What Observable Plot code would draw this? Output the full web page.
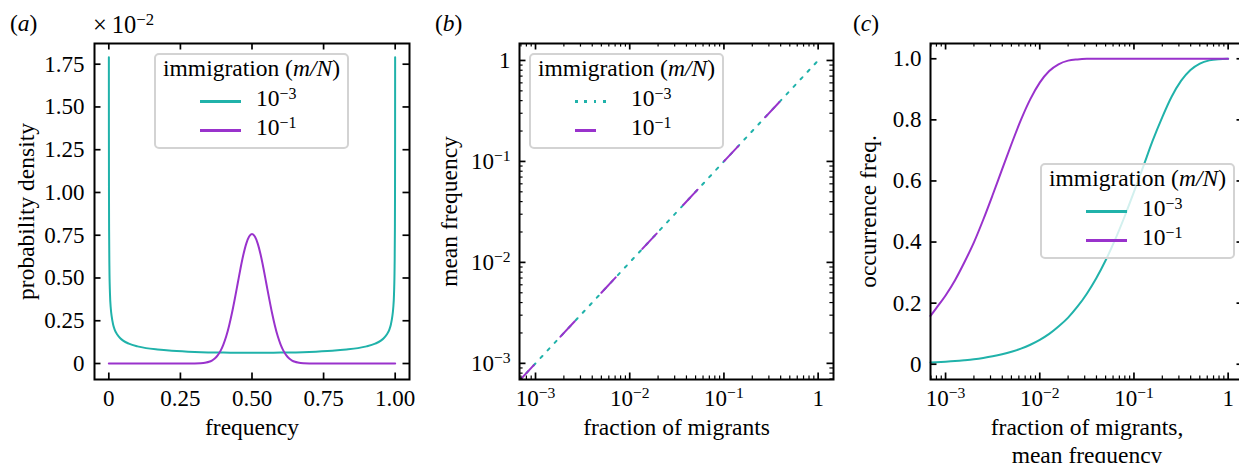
<!DOCTYPE html>
<html><head><meta charset="utf-8">
<script src="https://cdn.jsdelivr.net/npm/d3@7"></script>
<script src="https://cdn.jsdelivr.net/npm/@observablehq/plot@0.6"></script>
<style>
html,body{margin:0;padding:0;background:#fff;overflow:hidden;width:1239px;height:463px;}
body{position:relative;font-family:"Liberation Serif","Tinos","Times New Roman",serif;color:#000;}
.panel{position:absolute;top:0;height:463px;}
.lab{position:absolute;font-size:23.5px;line-height:1;white-space:nowrap;}
.sup{font-size:0.68em;position:relative;top:-0.46em;}
.legend{position:absolute;box-sizing:border-box;border:2px solid #d3d3d3;border-radius:5px;background:rgba(255,255,255,0.8);font-size:23.5px;}
.legend .t{position:absolute;left:0;right:0;top:2px;text-align:center;line-height:1;white-space:nowrap;}
.legend .h{position:absolute;height:3px;}
.legend .l{position:absolute;line-height:1;white-space:nowrap;}
</style></head><body>
<div id="pa" class="panel" style="left:0;width:420px"></div>
<div id="pb" class="panel" style="left:420px;width:420px"></div>
<div id="pc" class="panel" style="left:840px;width:410px"></div>

<div class="lab" style="left:10px;top:12px">(<i>a</i>)</div>
<div class="lab" style="left:93px;top:13px;font-size:24.5px">×&#8201;10<span class="sup">−2</span></div>
<div class="lab" style="left:435px;top:12px">(<i>b</i>)</div>
<div class="lab" style="left:853px;top:12px">(<i>c</i>)</div>

<div id="legends"></div>

<script>
const TEAL = "#20b2aa", PURPLE = "#9932cc";
const FONT = "'Liberation Serif','Tinos','Times New Roman',serif";

// ---------- Panel (a): probability density (x 10^-2) vs frequency ----------
const aTealFreq = [0.00016,0.0003,0.0006,0.001,0.002,0.004,0.007,0.01,0.015,0.02,0.03,0.04,0.05,0.07,0.1,0.13,0.17,0.22,0.3,0.4,0.5,
  0.6,0.7,0.78,0.83,0.87,0.9,0.93,0.95,0.96,0.97,0.98,0.985,0.99,0.993,0.996,0.998,0.999,0.9994,0.9997,0.99984];
const aTealDensity = [1.79,1.34,0.98,0.78,0.57,0.41,0.32,0.275,0.228,0.2,0.168,0.148,0.134,0.116,0.1,0.09,0.082,0.075,0.068,0.064,0.063,
  0.064,0.068,0.075,0.082,0.09,0.1,0.116,0.134,0.148,0.168,0.2,0.228,0.275,0.32,0.41,0.57,0.78,0.98,1.34,1.79];
const aPurpleFreq = [0,0.1,0.2,0.28,0.3,0.32,0.33,0.34,0.35,0.36,0.37,0.38,0.39,0.4,0.41,0.42,0.43,0.44,0.45,0.46,0.47,0.48,0.49,0.5,
  0.51,0.52,0.53,0.54,0.55,0.56,0.57,0.58,0.59,0.6,0.61,0.62,0.63,0.64,0.65,0.66,0.67,0.68,0.7,0.72,0.8,0.9,1];
const aPurpleDensity = [0,0,0,0,0.0003,0.0015,0.0029,0.0055,0.01,0.0175,0.0294,0.0475,0.074,0.111,0.159,0.221,0.295,0.379,0.468,0.557,0.637,0.701,0.742,0.757,
  0.742,0.701,0.637,0.557,0.468,0.379,0.295,0.221,0.159,0.111,0.074,0.0475,0.0294,0.0175,0.01,0.0055,0.0029,0.0015,0.0003,0,0,0,0];
const aXTicks = [0,0.25,0.5,0.75,1];
const aXTickLabels = ["0","0.25","0.50","0.75","1.00"];
const aYTicks = [0,0.25,0.5,0.75,1,1.25,1.5,1.75];
const aYTickLabels = ["0","0.25","0.50","0.75","1.00","1.25","1.50","1.75"];

// ---------- Panel (b): mean frequency vs fraction of migrants ----------
const bFractionLow = [0.000676,0.001,0.01,0.1,1];
const bMeanLow = [0.000676,0.001,0.01,0.1,1];        // m/N = 1e-3
const bFractionHigh = [0.000676,0.001,0.01,0.1,0.45];
const bMeanHigh = [0.000676,0.001,0.01,0.1,0.45];     // m/N = 1e-1
const logTicks = [0.001,0.01,0.1,1];
const logTickLabels = ["10^−3","10^−2","10^−1","1"];

// ---------- Panel (c): occurrence freq. ----------
const cFraction = [0.000692,0.000794,0.001,0.00126,0.00158,0.002,0.00251,0.00316,0.00398,0.00501,0.00631,0.00794,0.01,0.0126,0.0158,0.02,0.0251,0.0316,0.0398,0.0501,0.0631,0.0794,0.1,0.126,0.158,0.2,0.251,0.316,0.398,0.501,0.631,0.794,1];
const cOccLow = [0.0057,0.0066,0.0083,0.0104,0.0131,0.0164,0.0206,0.0259,0.0325,0.0407,0.051,0.0638,0.0797,0.0992,0.1233,0.1526,0.1882,0.2309,0.2814,0.3403,0.4077,0.4828,0.564,0.6483,0.7317,0.8091,0.8757,0.9276,0.9633,0.9844,0.9947,0.9986,0.9998];
const cOccHigh = [0.158,0.183,0.225,0.275,0.333,0.399,0.473,0.554,0.638,0.721,0.8,0.868,0.922,0.96,0.982,0.994,0.998,0.9997,1,1,1,1,1,1,1,1,1,1,1,1,1,1,1];
const cYTicks = [0,0.2,0.4,0.6,0.8,1];
const cYTickLabels = ["0","0.2","0.4","0.6","0.8","1.0"];

const series = ["10^−3","10^−1"];

const zip = (xs, ys) => xs.map((x, i) => ({x, y: ys[i]}));
function minorLog([lo, hi]) {
  const out = [];
  for (let e = -5; e <= 1; e++) for (let m = 2; m <= 9; m++) {
    const v = m * Math.pow(10, e);
    if (v >= lo && v <= hi) out.push(v);
  }
  return out;
}
function supify(svg) {
  svg.querySelectorAll("text").forEach(t => {
    const s = t.textContent, m = s.match(/^10\^(.+)$/);
    if (m && t.children.length === 0) {
      t.textContent = "10";
      const ts = document.createElementNS("http://www.w3.org/2000/svg", "tspan");
      ts.setAttribute("font-size", "0.68em");
      ts.setAttribute("dy", "-7.4");
      ts.textContent = m[1];
      t.appendChild(ts);
    }
  });
}

function makePanel(o) {
  const height = 463, mT = 43, mB = 84;
  const H = height - mT - mB, W = o.width - o.mL - o.mR;
  const maj = {stroke: "black", strokeWidth: 1.7}, mnr = {stroke: "black", strokeWidth: 1.2};
  const L = 6.5, l = 3.6;
  const fx = d => o.xLabels[o.xMajor.indexOf(d)];
  const fy = d => o.yLabels[o.yMajor.indexOf(d)];
  const svg = Plot.plot({
    width: o.width, height, marginLeft: o.mL, marginRight: o.mR, marginTop: mT, marginBottom: mB,
    x: {...o.x, label: null}, y: {...o.y, label: null},
    style: {fontFamily: FONT, fontSize: "23px", color: "black", background: "transparent", overflow: "visible"},
    marks: [
      ...o.lines,
      Plot.tickX(o.xMajor, {x: d => d, insetTop: H - L, ...maj}),
      Plot.tickX(o.xMajor, {x: d => d, insetBottom: H - L, ...maj}),
      Plot.tickY(o.yMajor, {y: d => d, insetRight: W - L, ...maj}),
      Plot.tickY(o.yMajor, {y: d => d, insetLeft: W - L, ...maj}),
      Plot.tickX(o.xMinor, {x: d => d, insetTop: H - l, ...mnr}),
      Plot.tickX(o.xMinor, {x: d => d, insetBottom: H - l, ...mnr}),
      Plot.tickY(o.yMinor, {y: d => d, insetRight: W - l, ...mnr}),
      Plot.tickY(o.yMinor, {y: d => d, insetLeft: W - l, ...mnr}),
      Plot.axisX(o.xMajor, {anchor: "bottom", tickSize: 0, tickPadding: 10, tickFormat: fx, label: null}),
      Plot.axisY(o.yMajor, {anchor: "left", tickSize: 0, tickPadding: o.yPad, tickFormat: fy, label: null}),
      Plot.frame({stroke: "black", strokeWidth: 2}),
      Plot.text([o.xTitle], {text: d => d, frameAnchor: "bottom", dy: 36, lineAnchor: "top", lineHeight: 1.18, fontSize: 23.5}),
      Plot.text([o.yTitle], {text: d => d, frameAnchor: "left", rotate: -90, dx: o.yTitleDx, lineAnchor: "middle", textAnchor: "middle", fontSize: 23.5})
    ]
  });
  supify(svg);
  document.getElementById(o.id).appendChild(svg);
}

// Panel (a)
makePanel({
  id: "pa", width: 420, mL: 94, mR: 11, yPad: 10,
  x: {domain: [-0.05, 1.05]}, y: {domain: [-0.0935, 1.871]},
  lines: [
    Plot.line(zip(aTealFreq, aTealDensity), {x: "x", y: "y", stroke: TEAL, strokeWidth: 2, curve: "monotone-x"}),
    Plot.line(zip(aPurpleFreq, aPurpleDensity), {x: "x", y: "y", stroke: PURPLE, strokeWidth: 2, curve: "monotone-x"})
  ],
  xMajor: aXTicks, xLabels: aXTickLabels, xMinor: [],
  yMajor: aYTicks, yLabels: aYTickLabels, yMinor: [],
  xTitle: "frequency", yTitle: "probability density", yTitleDx: -68
});

// Panel (b)
const bX = [Math.pow(10, -3.17), Math.pow(10, 0.163)], bY = [Math.pow(10, -3.16), Math.pow(10, 0.168)];
makePanel({
  id: "pb", width: 420, mL: 99, mR: 7, yPad: 9,
  x: {type: "log", domain: bX}, y: {type: "log", domain: bY},
  lines: [
    Plot.line(zip(bFractionLow, bMeanLow), {x: "x", y: "y", stroke: TEAL, strokeWidth: 2, strokeDasharray: "2.7,7.6", clip: true}),
    Plot.line(zip(bFractionHigh, bMeanHigh), {x: "x", y: "y", stroke: PURPLE, strokeWidth: 2, strokeDasharray: "21,39", clip: true})
  ],
  xMajor: logTicks, xLabels: logTickLabels, xMinor: minorLog(bX),
  yMajor: logTicks, yLabels: logTickLabels, yMinor: minorLog(bY),
  xTitle: "fraction of migrants", yTitle: "mean frequency", yTitleDx: -70
});

// Panel (c)
const cX = [Math.pow(10, -3.16), Math.pow(10, 0.163)];
makePanel({
  id: "pc", width: 410, mL: 90, mR: 7, yPad: 9,
  x: {type: "log", domain: cX}, y: {domain: [-0.05, 1.05]},
  lines: [
    Plot.line(zip(cFraction, cOccLow), {x: "x", y: "y", stroke: TEAL, strokeWidth: 2, curve: "monotone-x"}),
    Plot.line(zip(cFraction, cOccHigh), {x: "x", y: "y", stroke: PURPLE, strokeWidth: 2, curve: "monotone-x"})
  ],
  xMajor: logTicks, xLabels: logTickLabels, xMinor: minorLog(cX),
  yMajor: cYTicks, yLabels: cYTickLabels, yMinor: [],
  xTitle: "fraction of migrants,\nmean frequency", yTitle: "occurrence freq.", yTitleDx: -62.5
});

// Legends
function supHTML(s) {
  const m = s.match(/^10\^(.+)$/);
  return m ? `10<span class="sup">${m[1]}</span>` : s;
}
function legend(left, top, handles) {
  const d = document.createElement("div");
  d.className = "legend";
  Object.assign(d.style, {left: left + "px", top: top + "px", width: "195px", height: "96px"});
  let html = `<div class="t">immigration (<i>m/N</i>)</div>`;
  handles.forEach((h, i) => {
    const y = 44.5 + i * 29;
    html += `<div class="h" style="left:44px;top:${y}px;width:${h.w}px;background:${h.bg}"></div>`;
    html += `<div class="l" style="left:100px;top:${32 + i * 29}px">${supHTML(series[i])}</div>`;
  });
  d.innerHTML = html;
  document.getElementById("legends").appendChild(d);
}
legend(154, 53, [{w: 41, bg: TEAL}, {w: 41, bg: PURPLE}]);
legend(529, 53, [{w: 37, bg: `repeating-linear-gradient(to right, ${TEAL} 0 2.7px, transparent 2.7px 9.3px)`}, {w: 21, bg: PURPLE}]);
legend(1040, 163, [{w: 41, bg: TEAL}, {w: 41, bg: PURPLE}]);
</script>
</body></html>
